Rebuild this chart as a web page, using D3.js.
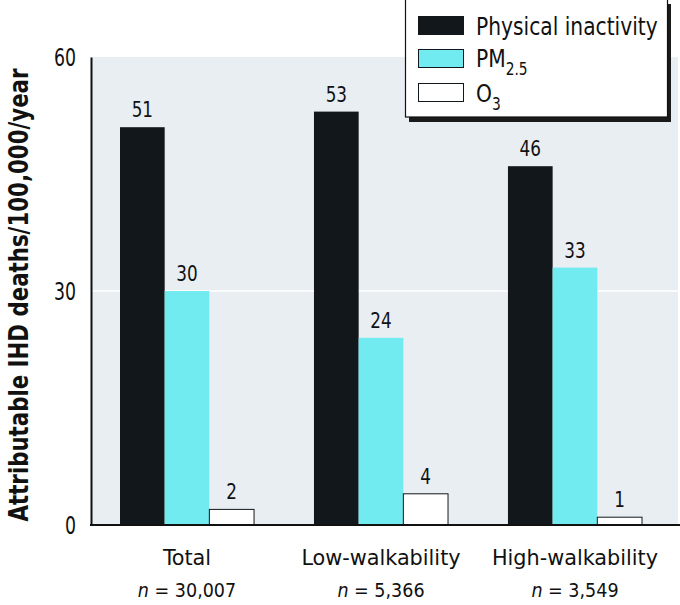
<!DOCTYPE html>
<html><head><meta charset="utf-8">
<script src="https://cdn.jsdelivr.net/npm/d3@7"></script>
<style>
body{margin:0;background:#fff;}
text{font-family:"DejaVu Sans Condensed","DejaVu Sans",sans-serif;font-stretch:condensed;fill:#111;}
</style></head>
<body><svg id="c" width="680" height="605"></svg>
<script>
const categories = ["Total","Low-walkability","High-walkability"];
const nLabels = ["30,007","5,366","3,549"];
const series = ["Physical inactivity","PM2.5","O3"];
const physicalInactivity = [51,53,46];
const pm25 = [30,24,33];
const o3 = [2,4,1];
const yTicks = [0,30,60];
const colors = ["#12171b","#72ebf0","#ffffff"];

const values = [physicalInactivity, pm25, o3];
const svg = d3.select("#c");
const L=91, R=678, T=57, B=525;
const x = d3.scaleBand().domain(categories).range([L,671]).paddingInner(0.309).paddingOuter(0.1495);
const xs = d3.scaleBand().domain(series).range([0,x.bandwidth()]);
const y = d3.scaleLinear().domain([0,60]).range([B,T]);

function stext(parent, px, py, str, size, sx, anchor){
  return parent.append("text").attr("transform",`translate(${px},${py}) scale(${sx},1)`)
    .attr("text-anchor",anchor||"start").attr("font-size",size).text(str);
}

svg.append("rect").attr("x",L).attr("y",T).attr("width",R-L).attr("height",B-T).attr("fill","#e9eef3");
yTicks.filter(t=>t>0 && t<60).forEach(t=>{
  svg.append("line").attr("x1",L).attr("x2",R).attr("y1",y(t)).attr("y2",y(t)).attr("stroke","#fff").attr("stroke-width",1.5);
});

const g = svg.append("g");
categories.forEach((c,ci)=>{
  series.forEach((s,si)=>{
    const v = values[si][ci];
    g.append("rect").attr("x",x(c)+xs(s)).attr("y",y(v)).attr("width",xs.bandwidth()).attr("height",B-y(v))
      .attr("fill",colors[si]).attr("stroke",si===2?"#12171b":"none").attr("stroke-width",1);
    stext(g, x(c)+xs(s)+xs.bandwidth()/2, y(v)-10, v, 22, 0.85, "middle");
  });
});

// y axis
const ya = svg.append("g").attr("transform",`translate(${L},0)`).call(d3.axisLeft(y).tickValues(yTicks).tickSize(0).tickFormat(""));
ya.select(".domain").attr("stroke","#111").attr("stroke-width",2);
yTicks.forEach(t=>{ stext(svg, 76, y(t)+9, t, 24, 0.8, "end"); });
// x axis
const xa = svg.append("g").attr("transform",`translate(0,${B})`).call(d3.axisBottom(x).tickSize(0).tickFormat(""));
xa.select(".domain").attr("stroke","#111").attr("stroke-width",2).attr("d",`M${L-1},0H680`);
categories.forEach((c,i)=>{
  const cx = x(c)+x.bandwidth()/2;
  stext(svg, cx, 565, c, 21, 1.1, "middle");
  const t = svg.append("text").attr("x",cx).attr("y",597).attr("text-anchor","middle").attr("font-size",19.5);
  t.append("tspan").attr("font-style","italic").text("n");
  t.append("tspan").text(" = "+nLabels[i]);
});

svg.append("text").attr("transform","translate(28,"+295+") rotate(-90)").attr("text-anchor","middle")
  .attr("font-size",27).attr("font-weight","bold").attr("textLength",453).attr("lengthAdjust","spacingAndGlyphs")
  .text("Attributable IHD deaths/100,000/year");

// legend
const lg = svg.append("g");
lg.append("rect").attr("x",409).attr("y",4).attr("width",262).attr("height",118).attr("fill","#1a1a1a");
lg.append("rect").attr("x",405.5).attr("y",-1).attr("width",262).attr("height",118).attr("fill","#fff").attr("stroke","#111").attr("stroke-width",1.2);
const baselines = [35,67,102];
series.forEach((s,i)=>{
  const yy = [16,49,83][i];
  lg.append("rect").attr("x",418.5).attr("y",yy+0.5).attr("width",45).attr("height",18).attr("fill",colors[i]).attr("stroke","#12171b").attr("stroke-width",1);
  if(i===0) stext(lg, 476, baselines[i], s, 25, 0.9);
  else {
    const t = stext(lg, 476, baselines[i], "", 25, 0.9);
    t.append("tspan").text(i===1?"PM":"O");
    t.append("tspan").attr("font-size",17).attr("dy",8).text(i===1?"2.5":"3");
  }
});
</script></body></html>
